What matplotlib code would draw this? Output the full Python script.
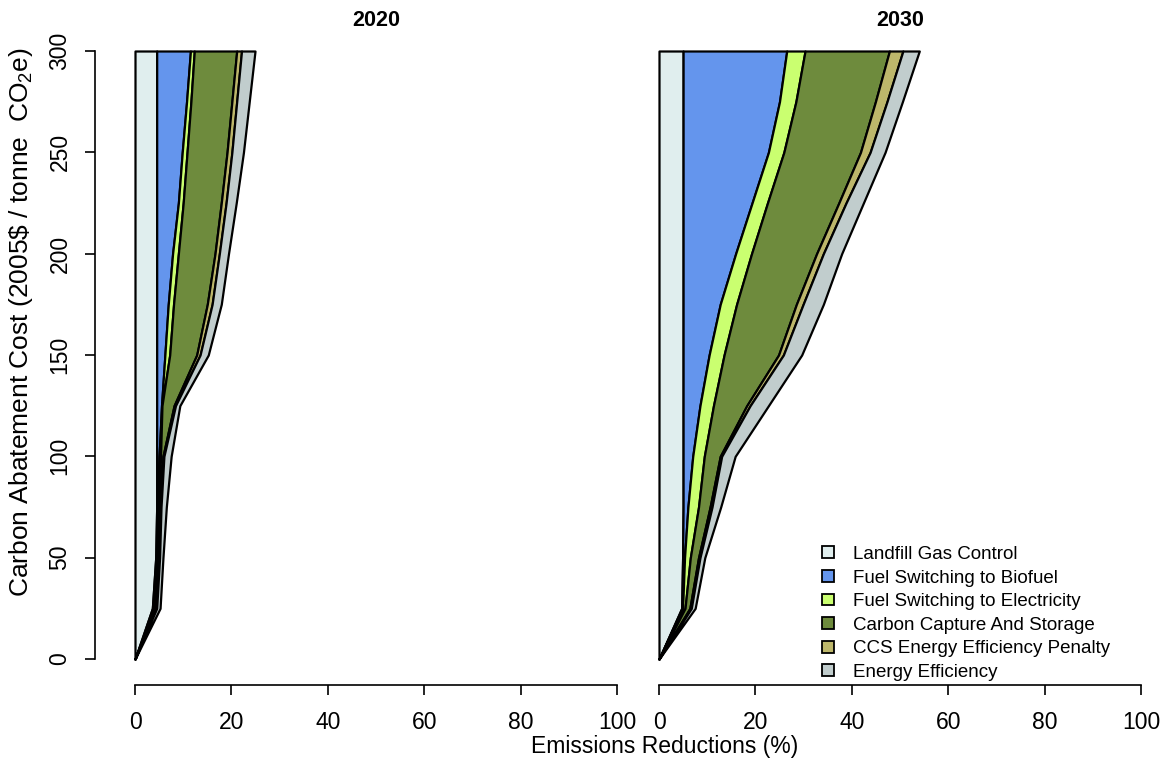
import matplotlib
matplotlib.use("Agg")
import matplotlib.pyplot as plt
from matplotlib.patches import Patch
import numpy as np

plt.rcParams['font.family'] = ['Liberation Sans', 'DejaVu Sans']
plt.rcParams['mathtext.default'] = 'regular'

# Cost levels (2005$ / tonne CO2e)
cost = [0, 25, 50, 75, 100, 125, 150, 175, 200, 225, 250, 275, 300]

categories = ["Landfill Gas Control", "Fuel Switching to Biofuel",
              "Fuel Switching to Electricity", "Carbon Capture And Storage",
              "CCS Energy Efficiency Penalty", "Energy Efficiency"]
colors = ["#E0EEEE", "#6495ED", "#CAFF70", "#6E8B3D", "#BDB76B", "#C1CDCD"]

# Emission reductions (%) contributed by each measure at each cost level
# 2020
landfill_2020 = [0, 3.6, 4.3, 4.5, 4.5, 4.5, 4.5, 4.5, 4.5, 4.5, 4.5, 4.5, 4.5]
biofuel_2020 = [0, 0.4, 0.3, 0.3, 0.5, 1.0, 1.7, 2.4, 3.3, 4.5, 5.3, 6.2, 7.0]
electric_2020 = [0, 0.2, 0.2, 0.2, 0.3, 0.1, 1.0, 1.1, 1.2, 1.0, 1.0, 0.9, 0.8]
ccs_2020 = [0, 0.2, 0.2, 0.3, 0.5, 2.5, 5.6, 7.0, 7.6, 7.9, 8.3, 8.5, 8.8]
penalty_2020 = [0, 0.1, 0.1, 0.1, 0.2, 0.3, 0.7, 1.0, 0.9, 1.0, 1.0, 1.0, 1.0]
effic_2020 = [0, 0.7, 0.7, 1.1, 1.5, 0.9, 1.7, 1.9, 1.9, 2.1, 2.4, 2.6, 2.8]

# 2030
landfill_2030 = [0, 4.7, 4.9, 5.0, 5.0, 5.0, 5.0, 5.0, 5.0, 5.0, 5.0, 5.0, 5.0]
biofuel_2030 = [0, 0.2, 0.4, 1.0, 2.0, 3.5, 5.4, 7.7, 10.9, 14.3, 17.7, 20.0, 21.5]
electric_2030 = [0, 0.5, 1.2, 2.2, 2.4, 2.8, 3.1, 3.4, 3.3, 3.2, 3.2, 3.4, 3.8]
ccs_2030 = [0, 1.0, 1.7, 2.4, 3.3, 6.9, 11.3, 12.4, 13.5, 14.8, 15.9, 16.5, 17.5]
penalty_2030 = [0, 0.3, 0.3, 0.4, 0.3, 0.7, 1.0, 1.4, 1.4, 1.5, 2.0, 2.4, 2.8]
effic_2030 = [0, 0.8, 1.0, 1.8, 2.8, 3.8, 3.8, 4.2, 3.8, 3.6, 3.1, 3.2, 3.4]

panels = [
    ("2020", [landfill_2020, biofuel_2020, electric_2020, ccs_2020, penalty_2020, effic_2020]),
    ("2030", [landfill_2030, biofuel_2030, electric_2030, ccs_2030, penalty_2030, effic_2030]),
]

x_ticks = [0, 20, 40, 60, 80, 100]
y_ticks = [0, 50, 100, 150, 200, 250, 300]

W, H = 1168, 758
fig = plt.figure(figsize=(W / 100, H / 100), dpi=100)

def fx(px):
    return px / W

def fy(py):
    return 1 - py / H

lefts = [135, 659]
axes = []
for i, (title, series) in enumerate(panels):
    ax = fig.add_axes([fx(lefts[i]), fy(659), 482 / W, 608 / H])
    axes.append(ax)
    y = np.array(cost, dtype=float)
    cum = np.zeros(len(cost))
    for vals, col in zip(series, colors):
        nxt = cum + np.array(vals, dtype=float)
        ax.fill_betweenx(y, cum, nxt, facecolor=col, edgecolor='black',
                         linewidth=1.6, clip_on=False, zorder=2)
        cum = nxt
    ax.set_xlim(0, 100)
    ax.set_ylim(0, 300)
    ax.patch.set_visible(False)
    for s in ['top', 'right']:
        ax.spines[s].set_visible(False)
    ax.spines['bottom'].set_position(('outward', 26 * 0.72))
    ax.spines['bottom'].set_bounds(0, 100)
    ax.spines['bottom'].set_linewidth(1.2)
    ax.set_xticks(x_ticks)
    ax.set_xticklabels([str(t) for t in x_ticks])
    ax.tick_params(axis='x', direction='out', length=7, width=1.2,
                   labelsize=16.5, pad=12)
    if i == 0:
        ax.spines['left'].set_position(('outward', 40 * 0.72))
        ax.spines['left'].set_bounds(0, 300)
        ax.spines['left'].set_linewidth(1.2)
        ax.set_yticks(y_ticks)
        ax.set_yticklabels([str(t) for t in y_ticks], rotation=90, va='center')
        ax.tick_params(axis='y', direction='out', length=7, width=1.2,
                       labelsize=16.5, pad=10)
    else:
        ax.spines['left'].set_visible(False)
        ax.set_yticks([])
    fig.text(fx(lefts[i] + 241), fy(20), title, ha='center', va='center',
             fontsize=15.5, fontweight='bold')

fig.text(fx(665), fy(746), "Emissions Reductions (%)", ha='center', va='center',
         fontsize=16.5)
fig.text(fx(21), fy(322), r"Carbon Abatement Cost (2005\$ / tonne  CO$_2$e)",
         ha='center', va='center', rotation=90, fontsize=19)

handles = [Patch(facecolor=c, edgecolor='black', linewidth=1.3) for c in colors]
axes[1].legend(handles, categories, loc='upper left',
               bbox_to_anchor=(fx(822), fy(546)), bbox_transform=fig.transFigure,
               frameon=False, fontsize=13.5, handlelength=0.65, handleheight=0.6,
               handletextpad=1.0, labelspacing=0.35, borderpad=0, borderaxespad=0)

fig.savefig("out.png", dpi=100)
